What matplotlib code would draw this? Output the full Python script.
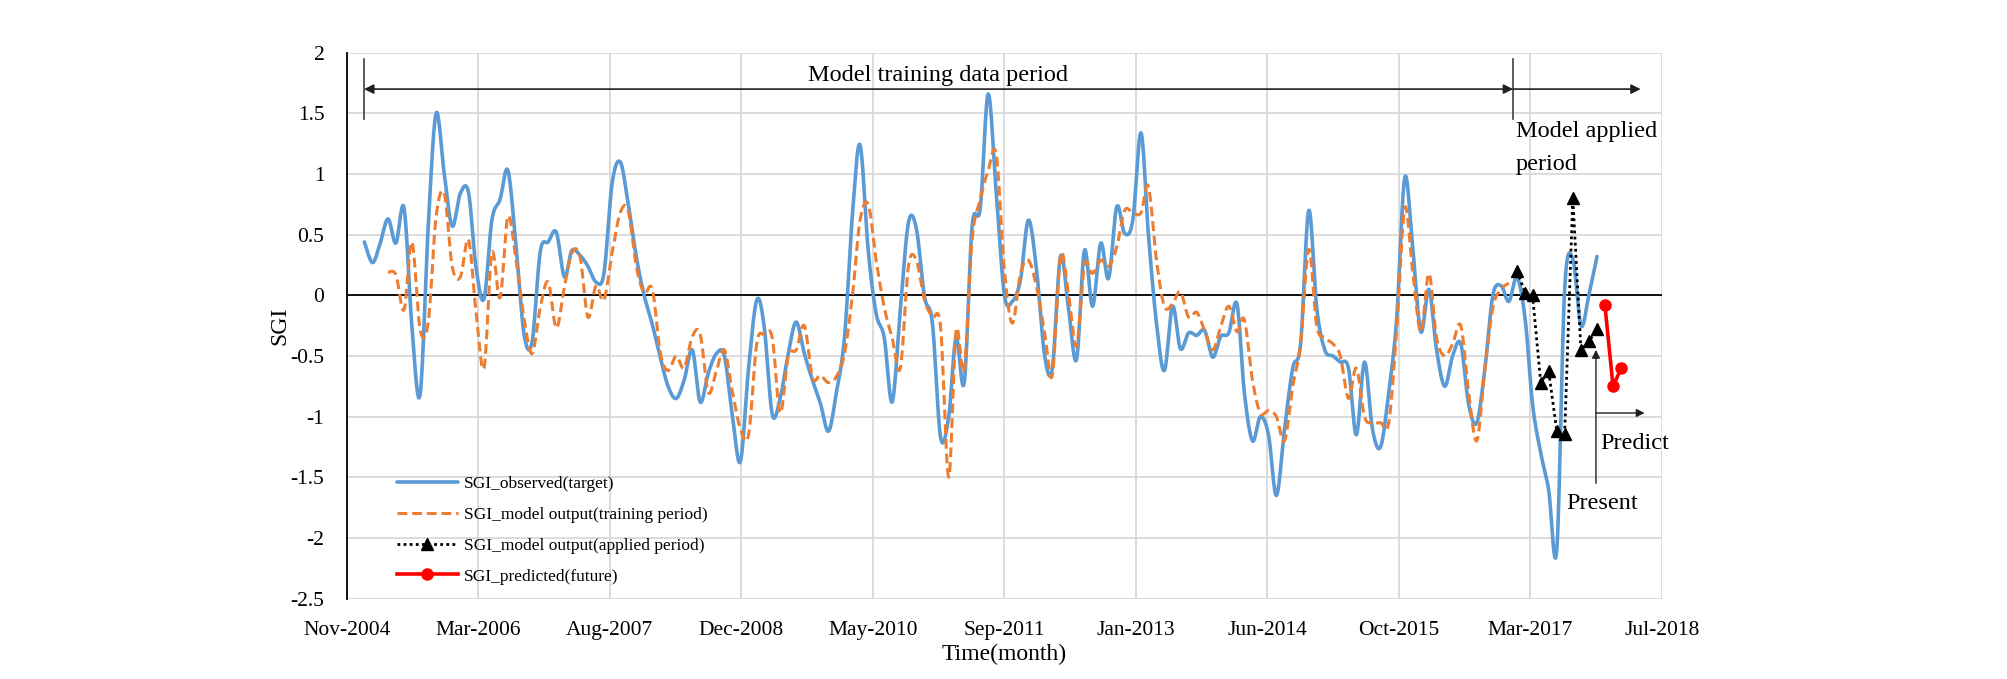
import numpy as np
import pandas as pd
import matplotlib
matplotlib.use("Agg")
import matplotlib.pyplot as plt
import matplotlib.dates as mdates
from matplotlib import transforms

plt.rcParams['font.family'] = ['Liberation Serif', 'DejaVu Serif']

# ---------------- data (monthly, first observed month = Jan-2005) ----------------
first_month = "2005-01-15"

sgi_observed = [
    0.44, 0.27, 0.42, 0.63, 0.43, 0.72, -0.26, -0.82, 0.57, 1.50,
    1.00, 0.57, 0.84, 0.85, 0.24, -0.03, 0.62, 0.79, 1.03, 0.40,
    -0.33, -0.38, 0.36, 0.44, 0.52, 0.15, 0.37, 0.33, 0.24, 0.11,
    0.18, 0.92, 1.10, 0.76, 0.32, 0.00, -0.24, -0.52, -0.75, -0.85,
    -0.70, -0.45, -0.88, -0.64, -0.48, -0.50, -1.00, -1.37, -0.60, -0.04,
    -0.25, -0.98, -0.85, -0.48, -0.22, -0.48, -0.70, -0.89, -1.12, -0.80,
    -0.34, 0.70, 1.24, 0.37, -0.15, -0.35, -0.88, -0.12, 0.60, 0.55,
    -0.01, -0.23, -1.17, -1.00, -0.35, -0.72, 0.57, 0.72, 1.66, 0.84,
    0.00, -0.05, 0.13, 0.62, 0.21, -0.50, -0.60, 0.32, -0.10, -0.53,
    0.37, -0.09, 0.43, 0.14, 0.73, 0.51, 0.62, 1.34, 0.51, -0.23,
    -0.62, -0.09, -0.44, -0.31, -0.33, -0.29, -0.51, -0.34, -0.31, -0.07,
    -0.80, -1.20, -1.00, -1.15, -1.65, -1.10, -0.60, -0.40, 0.70, -0.10,
    -0.45, -0.50, -0.55, -0.60, -1.15, -0.55, -1.10, -1.25, -0.80, -0.20,
    0.97, 0.40, -0.30, 0.05, -0.45, -0.75, -0.50, -0.40, -0.90, -1.05,
    -0.60, 0.00, 0.08, -0.05, 0.15, -0.20, -0.90, -1.30, -1.60, -2.10,
    0.05, 0.30, -0.25, 0.00, 0.32,
]

train_offset = 3  # model output starts 3 months after first observation
sgi_model_training = [
    0.19, 0.17, -0.12, 0.44, -0.28, -0.22, 0.65, 0.84, 0.24, 0.15,
    0.46, -0.12, -0.60, 0.35, -0.02, 0.65, 0.29, -0.20, -0.48, -0.10,
    0.11, -0.27, 0.07, 0.35, 0.32, -0.18, 0.08, -0.04, 0.35, 0.68,
    0.70, 0.24, 0.02, 0.05, -0.48, -0.62, -0.50, -0.60, -0.34, -0.32,
    -0.80, -0.62, -0.45, -0.80, -1.10, -1.15, -0.40, -0.32, -0.35, -0.97,
    -0.50, -0.45, -0.25, -0.68, -0.66, -0.72, -0.67, -0.48, 0.02, 0.62,
    0.75, 0.29, -0.10, -0.35, -0.60, 0.24, 0.29, -0.04, -0.18, -0.26,
    -1.50, -0.29, -0.62, 0.46, 0.79, 1.03, 1.16, 0.20, -0.23, 0.18,
    0.29, 0.07, -0.31, -0.66, 0.33, 0.02, -0.42, 0.25, 0.18, 0.29,
    0.24, 0.40, 0.70, 0.68, 0.68, 0.90, 0.29, -0.09, -0.07, 0.03,
    -0.18, -0.14, -0.29, -0.45, -0.26, -0.09, -0.30, -0.20, -0.70, -0.97,
    -0.95, -1.00, -1.20, -0.75, -0.40, 0.38, -0.25, -0.35, -0.40, -0.50,
    -0.85, -0.60, -1.00, -1.05, -1.05, -1.05, -0.30, 0.72, 0.20, -0.30,
    0.18, -0.35, -0.50, -0.40, -0.25, -0.80, -1.20, -0.60, -0.10, 0.05,
    0.10,
]

applied_offset = train_offset + len(sgi_model_training)
sgi_model_applied = [0.20, 0.02, 0.00, -0.72, -0.62, -1.12, -1.14, 0.80, -0.45, -0.38, -0.28]

pred_offset = applied_offset + len(sgi_model_applied)
sgi_predicted = [-0.08, -0.75, -0.60]

axis_start = "2004-11-09"
tick_step_days = 500
n_ticks = 11
y_ticks = [2, 1.5, 1, 0.5, 0, -0.5, -1, -1.5, -2, -2.5]

legend_labels = ["SGI_observed(target)", "SGI_model output(training period)",
                 "SGI_model output(applied period)", "SGI_predicted(future)"]


def month_dates(offset, n):
    base = pd.Timestamp(first_month)
    return [base + pd.DateOffset(months=offset + k) for k in range(n)]


def smooth(xs, ys, n=14):
    P = np.column_stack([np.asarray(xs, float), np.asarray(ys, float)])
    ext = np.vstack([P[0], P, P[-1]])
    t = np.linspace(0, 1, n, endpoint=False)[:, None]
    out = []
    for i in range(len(P) - 1):
        p0, p1, p2, p3 = ext[i], ext[i + 1], ext[i + 2], ext[i + 3]
        c1 = p1 + (p2 - p0) / 6.0
        c2 = p2 - (p3 - p1) / 6.0
        seg = (1 - t) ** 3 * p1 + 3 * (1 - t) ** 2 * t * c1 + 3 * (1 - t) * t ** 2 * c2 + t ** 3 * p2
        out.append(seg)
    out.append(P[-1][None])
    return np.vstack(out)


fig = plt.figure(figsize=(20.08, 6.79), dpi=100)
ax = fig.add_axes([346.7 / 2008, 1 - 598.6 / 679, 1315 / 2008, 545.9 / 679])

# observed
xo = mdates.date2num(month_dates(0, len(sgi_observed)))
so = smooth(xo, sgi_observed)
ax.plot(so[:, 0], so[:, 1], color="#5B9BD5", lw=2.6, solid_capstyle="round",
        label=legend_labels[0], zorder=3)

# model training
xt = mdates.date2num(month_dates(train_offset, len(sgi_model_training)))
st = smooth(xt, sgi_model_training)
ax.plot(st[:, 0], st[:, 1], color="#ED7D31", lw=2.2, linestyle=(0, (3.2, 1.6)),
        label=legend_labels[1], zorder=4)

# model applied
xa = mdates.date2num(month_dates(applied_offset, len(sgi_model_applied)))
ax.plot(xa, sgi_model_applied, color="black", lw=2.0, linestyle=(0, (1, 1.2)),
        marker="^", markersize=8, markerfacecolor="black", markeredgecolor="black",
        label=legend_labels[2], zorder=5)

# predicted
xp = mdates.date2num(month_dates(pred_offset, len(sgi_predicted)))
ax.plot(xp, sgi_predicted, color="#FF0000", lw=2.6, marker="o", markersize=8,
        markerfacecolor="#FF0000", markeredgecolor="#FF0000",
        label=legend_labels[3], zorder=6)

# axes
x0 = pd.Timestamp(axis_start)
xticks = [x0 + pd.Timedelta(days=tick_step_days * k) for k in range(n_ticks)]
ax.set_xlim(mdates.date2num(xticks[0]), mdates.date2num(xticks[-1]))
ax.set_xticks(mdates.date2num(xticks))
ax.set_xticklabels([d.strftime("%b-%Y") for d in xticks], fontsize=15.5)
ax.set_ylim(-2.5, 2)
ax.set_yticks(y_ticks)
ax.set_yticklabels([("%g" % v) for v in y_ticks], fontsize=15.5)
ax.tick_params(axis="both", length=0)
ax.tick_params(axis="x", pad=16)
ax.tick_params(axis="y", pad=16)
ax.grid(True, color="#D9D9D9", lw=1.3)
ax.set_axisbelow(True)
for s in ["top", "right", "bottom"]:
    ax.spines[s].set_visible(False)
ax.spines["left"].set_color("black")
ax.spines["left"].set_linewidth(1.3)
ax.axhline(0, color="black", lw=1.3, zorder=2)
ax.set_xlabel("Time(month)", fontsize=17, labelpad=3)
ax.set_ylabel("SGI", fontsize=17)
ax.yaxis.set_label_coords(-0.043, 0.5)

# legend
ax.legend(loc="center left", bbox_to_anchor=(0.033, 0.125), frameon=False, fontsize=12.5,
          handlelength=3.5, handletextpad=0.37, labelspacing=0.84, borderaxespad=0)

# annotations (x in axes fraction, y in data units)
tr = transforms.blended_transform_factory(ax.transAxes, ax.transData)
xl, xm, xe = 0.0132, 0.887, 0.984
ax.plot([xl, xl], [1.45, 1.95], color="#404040", lw=1.2, transform=tr, clip_on=False)
ax.plot([xm, xm], [1.45, 1.95], color="#404040", lw=1.2, transform=tr, clip_on=False)
ax.annotate("", xy=(xl, 1.7), xytext=(xm, 1.7), xycoords=tr, textcoords=tr,
            arrowprops=dict(arrowstyle="<|-|>", color="#202020", lw=1.2, mutation_scale=14,
                            shrinkA=0, shrinkB=0))
ax.annotate("", xy=(xe, 1.7), xytext=(xm, 1.7), xycoords=tr, textcoords=tr,
            arrowprops=dict(arrowstyle="-|>", color="#202020", lw=1.2, mutation_scale=14,
                            shrinkA=0, shrinkB=0))
ax.text(0.45, 1.81, "Model training data period", transform=tr, fontsize=17.5,
        ha="center", va="center")
ax.text(0.889, 1.35, "Model applied", transform=tr, fontsize=17.5, ha="left", va="center")
ax.text(0.889, 1.08, "period", transform=tr, fontsize=17.5, ha="left", va="center")

xpres = 0.95
ax.annotate("", xy=(xpres, -0.45), xytext=(xpres, -1.55), xycoords=tr, textcoords=tr,
            arrowprops=dict(arrowstyle="-|>", color="#202020", lw=1.0, mutation_scale=12,
                            shrinkA=0, shrinkB=0))
ax.text(0.955, -1.72, "Present", transform=tr, fontsize=17.5, ha="center", va="center")
ax.annotate("", xy=(0.987, -0.97), xytext=(xpres, -0.97), xycoords=tr, textcoords=tr,
            arrowprops=dict(arrowstyle="-|>", color="#202020", lw=1.0, mutation_scale=12,
                            shrinkA=0, shrinkB=0))
ax.text(0.953, -1.22, "Predict", transform=tr, fontsize=17.5, ha="left", va="center")

fig.savefig("out.png", dpi=100)
